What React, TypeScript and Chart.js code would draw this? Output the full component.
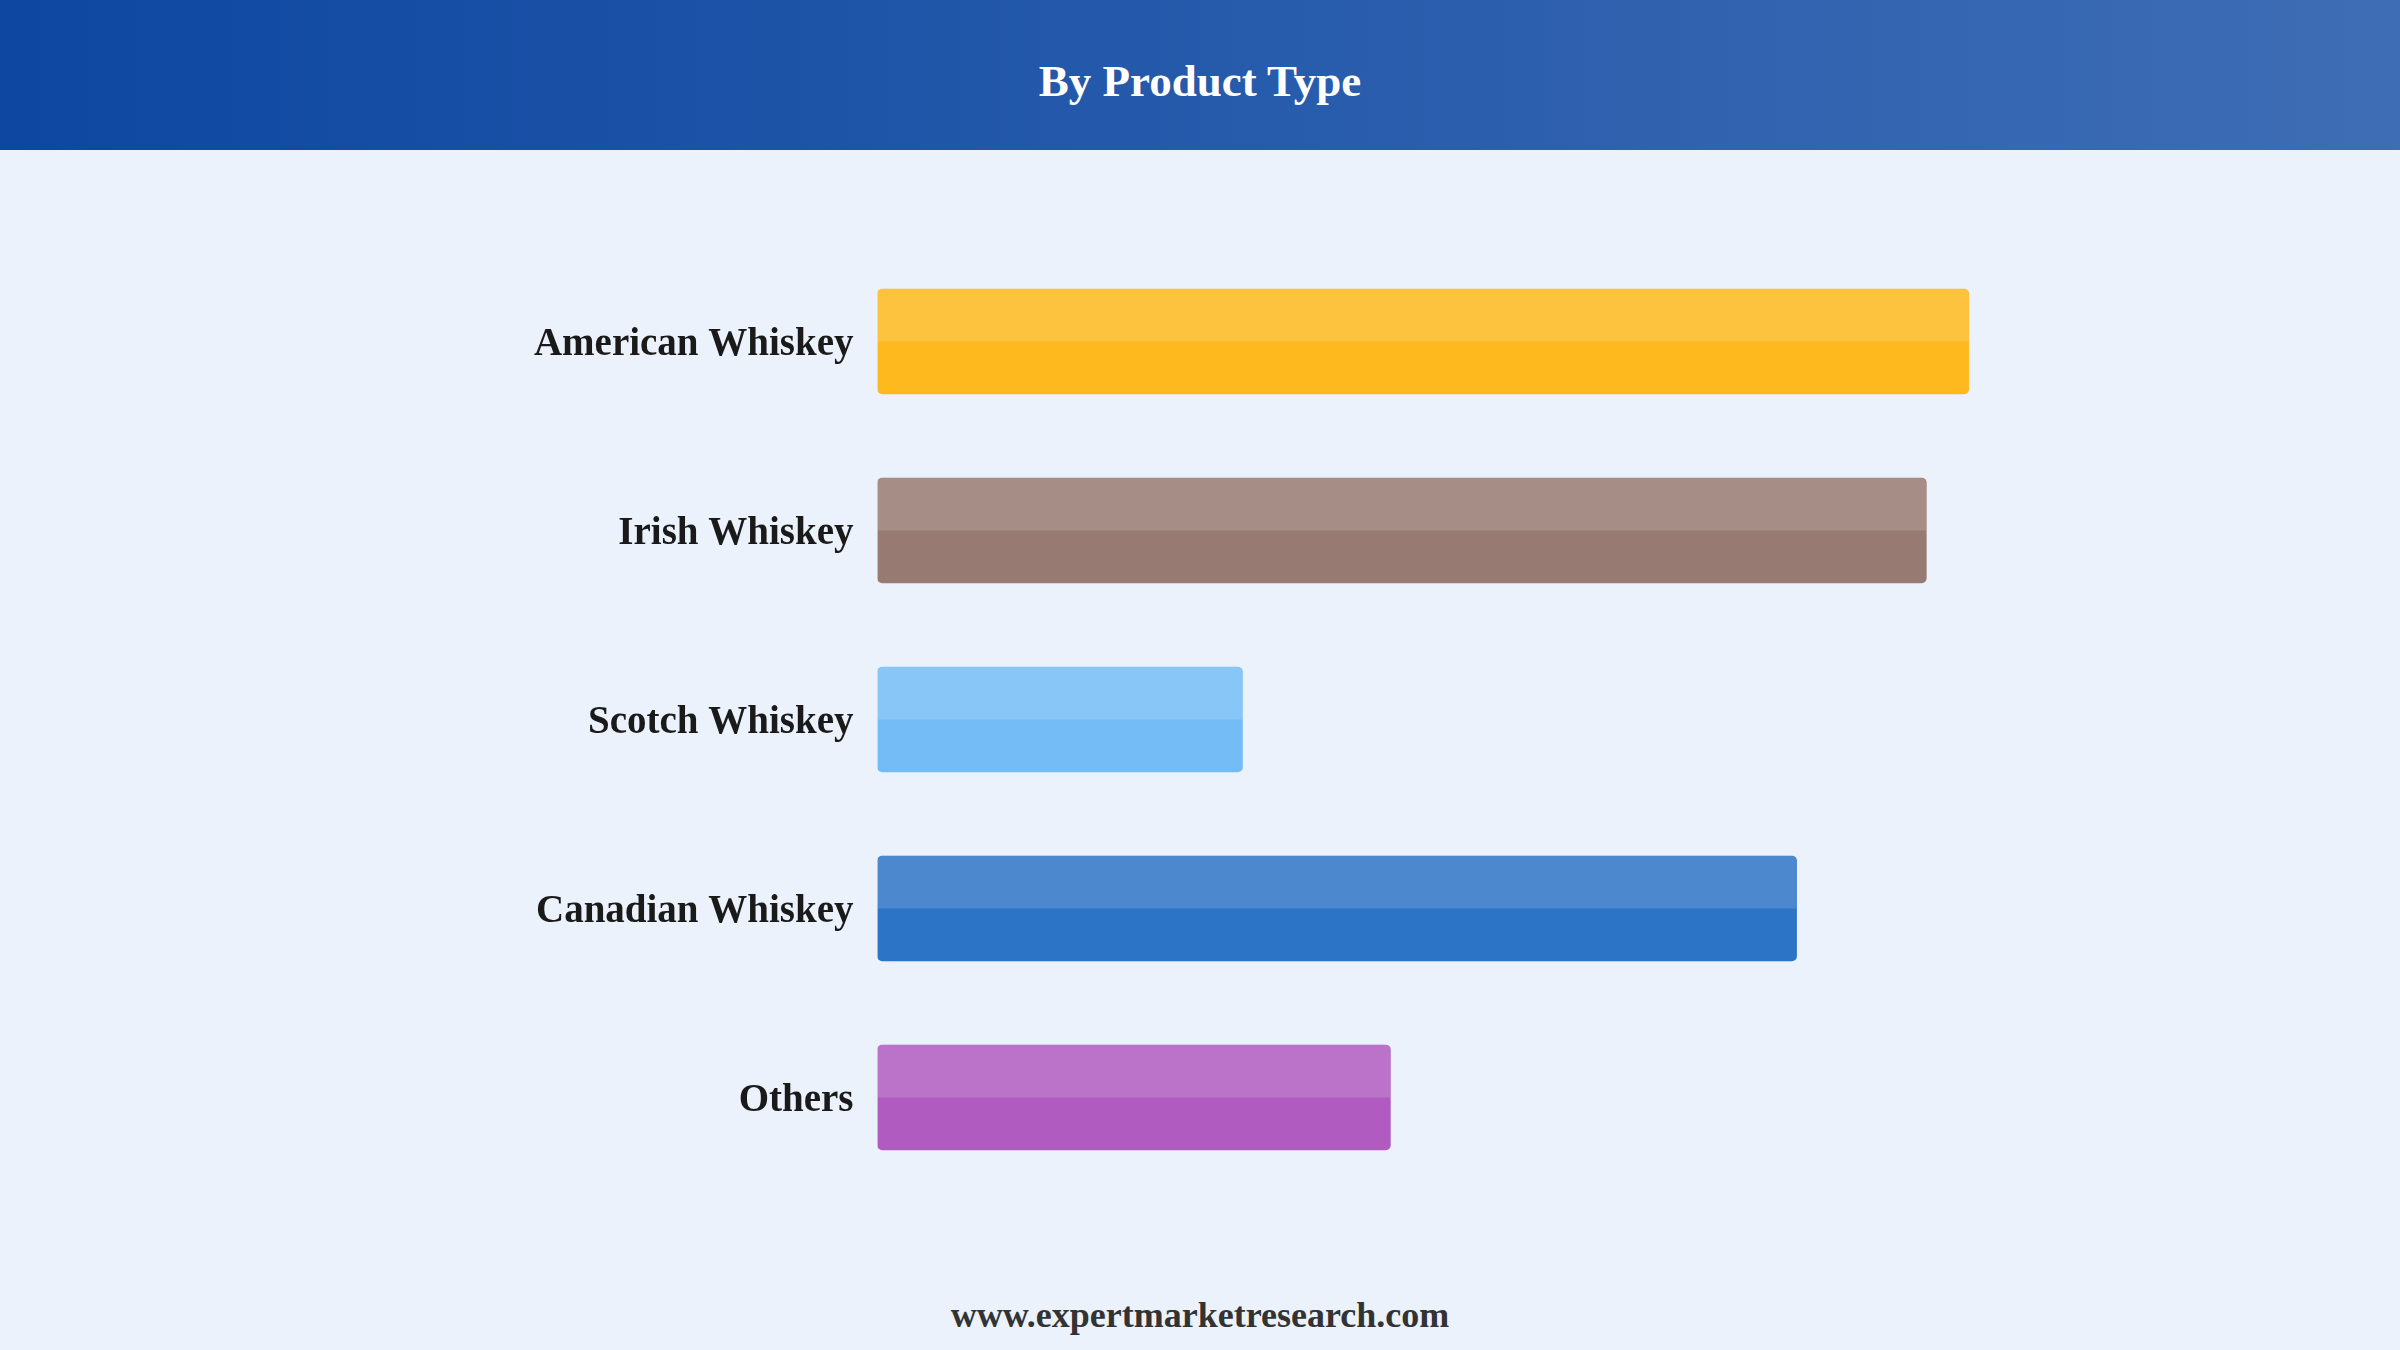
import React, { useEffect, useRef } from 'react';
import { Chart, registerables, Plugin } from 'chart.js';

Chart.register(...registerables);

const categories = ['American Whiskey', 'Irish Whiskey', 'Scotch Whiskey', 'Canadian Whiskey', 'Others'];
const values = [90.0, 86.5, 30.1, 75.8, 42.3];
const barColors = ['#FDB91E', '#977B72', '#73BCF6', '#2C74C6', '#B05BC0'];

const SERIF = '"Liberation Serif", "Times New Roman", Times, serif';

// lighter top half on each bar
const glossPlugin: Plugin<'bar'> = {
  id: 'gloss',
  afterDatasetsDraw(chart) {
    const ctx = chart.ctx;
    const meta = chart.getDatasetMeta(0);
    ctx.save();
    ctx.fillStyle = 'rgba(255, 255, 255, 0.15)';
    meta.data.forEach((el: any) => {
      const { x, y, base, height } = el.getProps(['x', 'y', 'base', 'height'], true);
      const left = Math.min(x, base);
      const w = Math.abs(x - base);
      ctx.beginPath();
      ctx.roundRect(left, y - height / 2, w, height / 2, [5, 5, 0, 0]);
      ctx.fill();
    });
    ctx.restore();
  }
};

export default function App() {
  const chartRef = useRef<HTMLCanvasElement>(null);
  const chartInstance = useRef<Chart | null>(null);

  useEffect(() => {
    if (!chartRef.current) return;
    if (chartInstance.current) chartInstance.current.destroy();

    chartInstance.current = new Chart(chartRef.current, {
      type: 'bar',
      data: {
        labels: categories,
        datasets: [
          {
            data: values,
            backgroundColor: barColors,
            borderWidth: 0,
            borderRadius: 5,
            borderSkipped: false,
            barThickness: 105,
            categoryPercentage: 1
          }
        ]
      },
      options: {
        indexAxis: 'y',
        responsive: true,
        maintainAspectRatio: false,
        animation: false,
        layout: {
          padding: { top: 97, bottom: 58, left: 0, right: 310 }
        },
        plugins: {
          legend: { display: false },
          tooltip: { enabled: false },
          title: { display: false }
        },
        scales: {
          x: {
            display: false,
            min: 0,
            max: 100
          },
          y: {
            grid: { display: false, drawTicks: false, tickLength: 0 },
            border: { display: false },
            ticks: {
              padding: 24,
              labelOffset: 3,
              color: '#1a1a1a',
              font: { family: SERIF, size: 39, weight: 'bold' }
            },
            afterFit(scale) {
              scale.width = 877.5;
            }
          }
        }
      },
      plugins: [glossPlugin]
    });

    return () => {
      if (chartInstance.current) {
        chartInstance.current.destroy();
        chartInstance.current = null;
      }
    };
  }, []);

  return (
    <div
      style={{
        position: 'fixed',
        left: 0,
        top: 0,
        width: 2400,
        height: 1350,
        background: '#EBF2FB',
        fontFamily: SERIF,
        overflow: 'hidden'
      }}
    >
      <div
        style={{
          position: 'absolute',
          left: 0,
          top: 0,
          width: 2400,
          height: 150,
          boxSizing: 'border-box',
          paddingTop: 12,
          background: 'linear-gradient(90deg, #0D47A1 0%, #3E6DB5 100%)',
          display: 'flex',
          alignItems: 'center',
          justifyContent: 'center',
          color: '#ffffff',
          fontWeight: 'bold',
          fontSize: 45
        }}
      >
        By Product Type
      </div>
      <div style={{ position: 'absolute', left: 0, top: 150, width: 2400, height: 1100 }}>
        <canvas ref={chartRef}></canvas>
      </div>
      <div
        style={{
          position: 'absolute',
          left: 0,
          top: 1290,
          width: 2400,
          height: 50,
          lineHeight: '50px',
          textAlign: 'center',
          color: '#333333',
          fontWeight: 'bold',
          fontSize: 36
        }}
      >
        www.expertmarketresearch.com
      </div>
    </div>
  );
}
